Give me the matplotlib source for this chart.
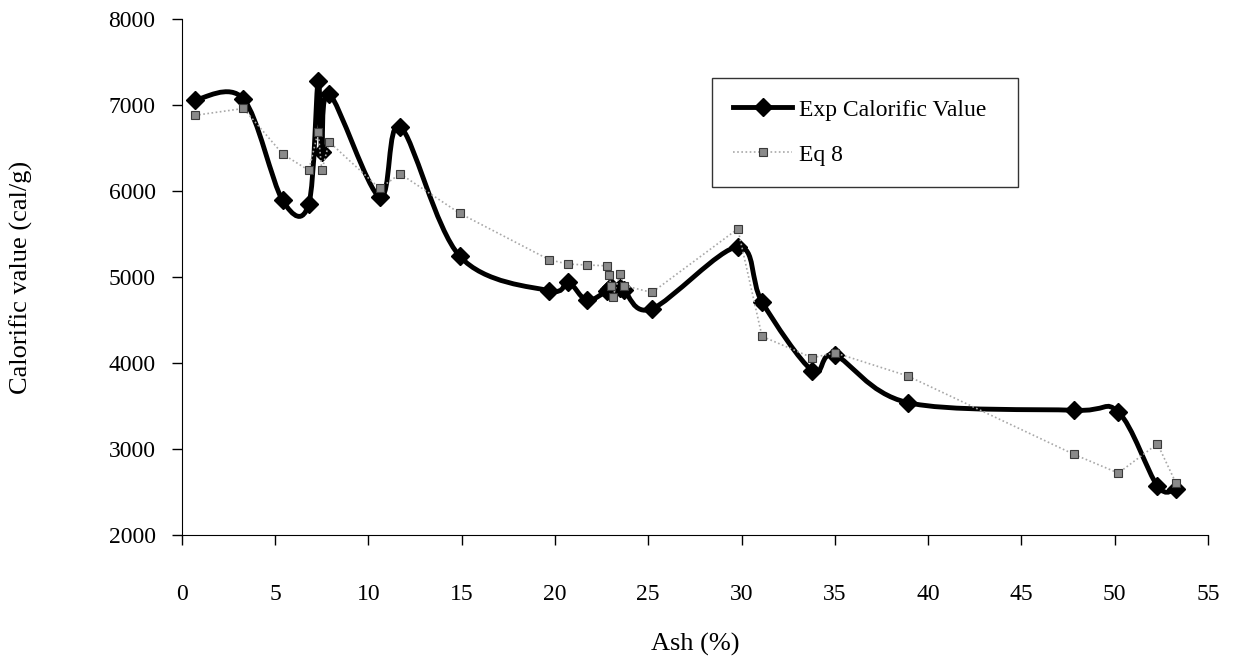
import numpy as np
import matplotlib
matplotlib.use("Agg")
import matplotlib.pyplot as plt
from matplotlib.path import Path
from matplotlib.patches import PathPatch
from matplotlib.lines import Line2D

plt.rcParams['font.family'] = ['Liberation Serif', 'DejaVu Serif']

# Data
ash = [0.7, 3.3, 5.4, 6.8, 7.3, 7.5, 7.9, 10.6, 11.7, 14.9, 19.7, 20.7, 21.7,
       22.8, 22.9, 23.0, 23.1, 23.5, 23.7, 25.2, 29.8, 31.1, 33.8, 35.0, 38.9,
       47.8, 50.2, 52.3, 53.3]
exp_cv = [7060, 7070, 5890, 5850, 7280, 6450, 7130, 5930, 6750, 5240, 4840, 4940, 4730,
          4840, 4860, 4880, 4850, 4870, 4850, 4630, 5350, 4710, 3910, 4090, 3540,
          3450, 3430, 2570, 2540]
eq8 = [6880, 6960, 6430, 6240, 6690, 6240, 6570, 6030, 6200, 5740, 5200, 5150, 5140,
       5130, 5020, 4900, 4770, 5040, 4900, 4820, 5560, 4310, 4060, 4120, 3850,
       2940, 2720, 3060, 2600]

xticks = list(range(0, 60, 5))
yticks = list(range(2000, 9000, 1000))


# Excel-like smoothed line (Catmull-Rom as cubic Bezier segments)
def smooth_path(xs, ys):
    pts = np.column_stack([xs, ys]).astype(float)
    n = len(pts)
    verts = [pts[0]]
    codes = [Path.MOVETO]
    for i in range(n - 1):
        p0 = pts[max(i - 1, 0)]
        p1 = pts[i]
        p2 = pts[i + 1]
        p3 = pts[min(i + 2, n - 1)]
        verts += [p1 + (p2 - p0) / 6, p2 - (p3 - p1) / 6, p2]
        codes += [Path.CURVE4] * 3
    return Path(verts, codes)


fig = plt.figure(figsize=(12.36, 6.6), dpi=100)
ax = fig.add_axes([0.1472, 0.1894, 0.830, 0.7818])

# Exp series
ax.add_patch(PathPatch(smooth_path(ash, exp_cv), facecolor='none',
                       edgecolor='black', lw=3.5, zorder=2))
ax.plot(ash, exp_cv, ls='none', marker='D', ms=9, color='black', zorder=3)

# Eq 8 series
ax.plot(ash, eq8, color='#a8a8a8', lw=1.2, ls=(0, (1, 1.5)), zorder=4)
ax.plot(ash, eq8, ls='none', marker='s', ms=6, mfc='#8a8a8a', mec='#3a3a3a',
        mew=0.8, zorder=5)

ax.set_xlim(0, 55)
ax.set_ylim(2000, 8000)
ax.set_xticks(xticks)
ax.set_yticks(yticks)
ax.spines['top'].set_visible(False)
ax.spines['right'].set_visible(False)
ax.tick_params(axis='both', direction='out', length=7, width=1, labelsize=17)
ax.tick_params(axis='x', pad=28)
ax.tick_params(axis='y', pad=12)

ax.set_xlabel('Ash (%)', fontsize=19)
ax.set_ylabel('Calorific value (cal/g)', fontsize=19)
ax.xaxis.set_label_coords(0.5, -0.19)
ax.yaxis.set_label_coords(-0.145, 0.5)

handles = [
    Line2D([], [], color='black', lw=3.5, marker='D', ms=9),
    Line2D([], [], color='#a8a8a8', lw=1.2, ls=(0, (1, 1.5)), marker='s', ms=6,
           mfc='#8a8a8a', mec='#3a3a3a', mew=0.8),
]
leg = ax.legend(handles, ['Exp Calorific Value', 'Eq 8'],
                bbox_to_anchor=(0.505, 0.694, 0.3215, 0.215), loc='upper left',
                mode='expand', fontsize=17, frameon=True, fancybox=False,
                edgecolor='black', handlelength=2.5, handletextpad=0.3,
                labelspacing=1.0, borderpad=0.9)
leg.get_frame().set_linewidth(1.0)

fig.savefig('out.png', dpi=100)
